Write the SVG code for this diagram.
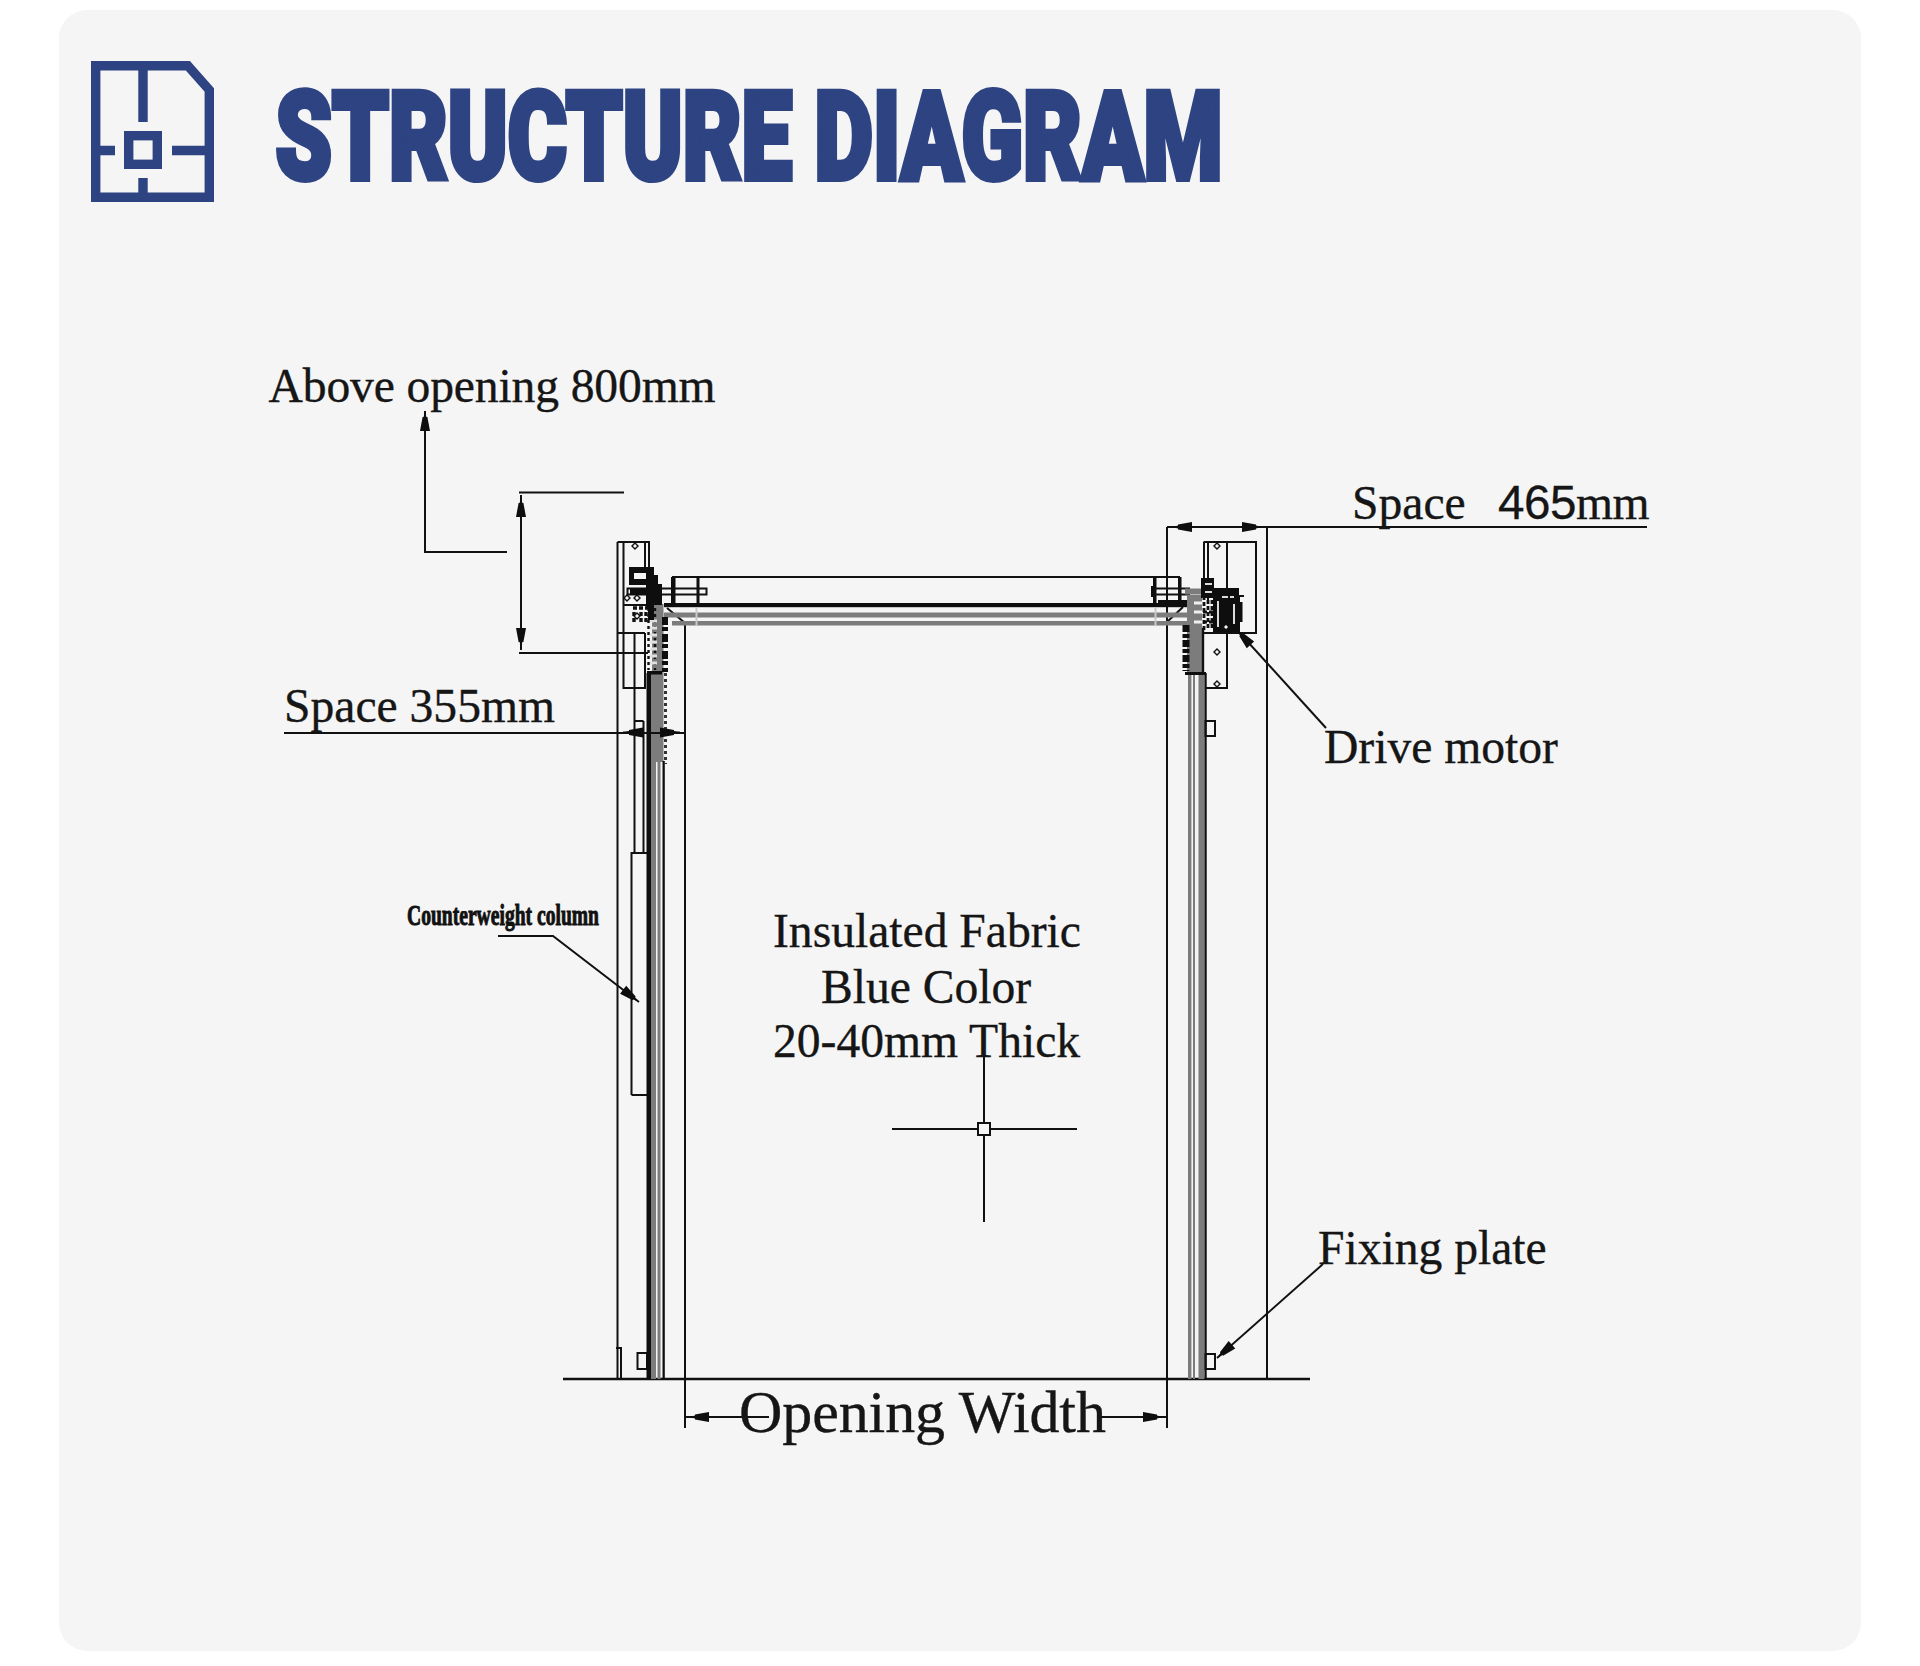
<svg xmlns="http://www.w3.org/2000/svg" width="1920" height="1666" viewBox="0 0 1920 1666">
<style>
.t{font-family:"Liberation Serif","Times New Roman",serif;font-size:47.6px;fill:#161616;stroke:#161616;stroke-width:.35}
.l{stroke:#111;stroke-width:2;fill:none}
.k{fill:#0e0e0e}
.g{fill:#7c7c7c}
.ic{fill:none;stroke:#2d4382;stroke-width:9.4}
.ld{stroke:#111;stroke-width:2;fill:none;marker-end:url(#ah)}
</style>
<defs>
<marker id="ah" markerUnits="userSpaceOnUse" markerWidth="24" markerHeight="12" refX="22" refY="6" orient="auto" overflow="visible">
<path d="M22 6 L16 4.6 L16 3.6 L2 1 L2 11 L16 8.4 L16 7.4 Z" fill="#0e0e0e"/>
</marker>
<path id="dm" d="M0 -3 L3 0 L0 3 L-3 0 Z" fill="#f5f5f5" stroke="#111" stroke-width="1.4"/>
</defs>
<rect width="1920" height="1666" fill="#fff"/>
<rect id="card" x="59" y="10" width="1802" height="1641" rx="28" fill="#f5f5f5"/>

<g id="icon">
<path class="ic" d="M95.7 65.7 H187.8 L209.3 90 V197.3 H95.7 Z"/>
<path class="ic" d="M143 66 V122 M100 150.5 H115 M172 150.5 H205 M143 178 V193"/>
<rect class="ic" x="128.7" y="135.7" width="28.6" height="28.6"/>
</g>
<text id="title" x="275.5" y="179" font-family="Roboto,'Liberation Sans',Arial,sans-serif" font-weight="900" font-size="123" fill="#2d4382" stroke="#2d4382" stroke-width="6" stroke-linejoin="miter" textLength="947" lengthAdjust="spacingAndGlyphs">STRUCTURE DIAGRAM</text>

<g id="door-frame">
<path class="l" d="M617.5 542 V1379 M617.5 542 H649 V570 M623.5 542 V688 H645 V633 M617.5 633 H645 M623.5 605 H660 M645 542 V570"/>
<path class="l" d="M621 1348 V1379 M616 1348 H622"/>
<path class="l" d="M634.5 633 V853 M643.5 721 H634.5 M643.5 721 V853"/>
<path class="l" d="M631.5 1095 V853 H647 M631.5 1095 H647"/>
<rect class="l" x="637.5" y="1353" width="9.5" height="16"/>
<path class="l" d="M685 623 V1428 M667 608 L685 623 M1167 527 V1428 M1167 622 L1183 607 M1267 527 V1379"/>
<path d="M563 1379 H1310" stroke="#111" stroke-width="2.6"/>
</g>

<g id="top-beam">
<path class="l" d="M672 577 H1180"/>
<rect class="k" x="671" y="577" width="4.5" height="27"/>
<rect class="k" x="696.5" y="577" width="3" height="27"/>
<rect class="k" x="1153" y="577" width="3.5" height="27"/>
<rect class="k" x="1178" y="577" width="3.5" height="27"/>
<path class="l" d="M627.5 588.5 H706.5 V594.5 H627.5 Z M1151 588.5 H1190 M1151 594.5 H1190"/>
<rect class="k" x="1151" y="586" width="3" height="11"/>
<rect class="k" x="664" y="603" width="523" height="4.2"/>
<rect class="k" x="1158" y="600" width="30" height="4"/>
<rect class="g" x="664" y="612.5" width="523" height="5"/>
<rect class="g" x="672" y="621" width="515" height="4.5"/>
<rect x="695.5" y="608" width="2" height="18" fill="#c9c9c9"/>
<rect x="1154.5" y="608" width="2" height="18" fill="#c9c9c9"/>
</g>

<g id="left-column">
<rect class="g" x="652" y="604" width="11.5" height="158"/>
<rect class="g" x="650" y="673" width="6" height="706"/>
<rect class="k" x="646.5" y="673" width="4.5" height="706"/>
<rect class="g" x="657.5" y="761" width="3" height="618"/>
<rect class="k" x="662.5" y="761" width="2.3" height="618"/>
<path d="M665.5 673 V764" stroke="#333" stroke-width="3" stroke-dasharray="3 3"/>
<rect class="k" x="647" y="671" width="15" height="3.5"/>
<path d="M665 617 V672" stroke="#0e0e0e" stroke-width="6" stroke-dasharray="8 2 4 3"/>
<path d="M648.5 608 V670 M655 608 V670" stroke="#111" stroke-width="2.4" stroke-dasharray="3 3"/>
<path d="M650 621 H657 M650 628 H657 M650 635 H657 M650 642 H657 M650 649 H657 M650 656 H657 M650 663 H657" stroke="#e0e0e0" stroke-width="3"/>
</g>

<g id="left-mechanism">
<rect class="k" x="629" y="567" width="23" height="6"/>
<rect class="k" x="629" y="579" width="23" height="6"/>
<rect class="k" x="629" y="567" width="5" height="18"/>
<rect class="k" x="646" y="567" width="8" height="40"/>
<rect class="k" x="654" y="575" width="4" height="30"/>
<rect class="k" x="630" y="588" width="18" height="7"/>
<rect class="k" x="658" y="584" width="4" height="21"/>
<rect class="k" x="648" y="604" width="6" height="16"/>
<path d="M633 608 H648 M634 612 V624 M641 612 V624 M646 612 V624" stroke="#111" stroke-width="3.4" stroke-dasharray="4 2" fill="none"/>
<use href="#dm" x="635" y="546"/>
<use href="#dm" x="627" y="598"/>
<use href="#dm" x="637" y="598"/>
<use href="#dm" x="637" y="616"/>
</g>

<g id="right-column">
<rect class="g" x="1187" y="595" width="15" height="78"/>
<rect class="g" x="1185" y="588.5" width="18" height="6"/>
<rect class="g" x="1188" y="673" width="3.4" height="706"/>
<rect class="g" x="1193" y="673" width="2" height="706"/>
<rect class="g" x="1198.5" y="673" width="6" height="706"/>
<rect class="k" x="1204.5" y="673" width="2.2" height="706"/>
<rect class="k" x="1185" y="672" width="21" height="3"/>
<path d="M1186 625 V671" stroke="#0e0e0e" stroke-width="7" stroke-dasharray="7 2 4 2"/>
<path d="M1203 628 V672" stroke="#111" stroke-width="2.4"/>
<path d="M1194 603 H1203 M1194 612 H1203 M1194 622 H1203" stroke="#f0f0f0" stroke-width="3"/>
</g>

<g id="right-mechanism">
<path class="l" d="M1203.5 542 H1256 V633 H1203 M1208 542 V600 M1227 542 V688 H1206 M1204 542 V590"/>
<rect class="l" x="1205.5" y="721" width="9.5" height="15"/>
<rect class="l" x="1205.5" y="1354" width="9.5" height="15"/>
<rect class="k" x="1201" y="578" width="13" height="20"/>
<rect class="k" x="1214" y="588" width="25" height="8"/>
<rect class="k" x="1213" y="596" width="27" height="36"/>
<rect class="k" x="1239" y="602" width="3.5" height="20"/>
<path d="M1238 596 H1244" stroke="#111" stroke-width="2"/>
<path d="M1204 596 V630 M1208 600 V630 M1212 600 V630 M1203 612 H1214 M1203 622 H1214" stroke="#111" stroke-width="2.8" stroke-dasharray="4 2"/>
<path d="M1218 601 V627 M1234 604 V624 M1222 597 H1228 M1230 597 H1234 M1205 584 H1212 M1205 592 H1212" stroke="#dcdcdc" stroke-width="2"/>
<use href="#dm" x="1217" y="546"/>
<use href="#dm" x="1217" y="652"/>
<use href="#dm" x="1217" y="684"/>
<use href="#dm" x="1226" y="627"/>
</g>

<g id="connectors">
<path class="ld" d="M507 552 H425 V411"/>
<path class="l" d="M519 492.5 H624 M519 653 H648 M521 495 V650"/>
<path class="ld" d="M521 520 V497"/>
<path class="ld" d="M521 625 V648"/>
<path class="l" d="M284 733 H685"/>
<path class="ld" d="M640 732.5 H623"/>
<path class="ld" d="M660 732.5 H680"/>
<path class="l" d="M1167 527 H1647"/>
<path class="ld" d="M1192 527 H1172"/>
<path class="ld" d="M1243 527 H1262"/>
<path class="ld" d="M1326 728 L1237 630"/>
<path class="ld" d="M1323 1264 L1217 1358"/>
<path class="ld" d="M498 936 H553 L639 1002"/>
<path class="l" d="M685 1417 H769 M1100 1417 H1167"/>
<path class="ld" d="M710 1417 H689"/>
<path class="ld" d="M1143 1417 H1163"/>
<path class="l" d="M984 1055 V1123 M984 1135 V1222 M892 1129 H978 M990 1129 H1077"/>
<rect class="l" x="978" y="1123" width="12" height="12"/>
</g>

<g id="labels">
<text class="t" x="268.5" y="401.5" style="letter-spacing:-.13px">Above opening 800mm</text>
<text class="t" x="284" y="722">Space 355mm</text>
<text class="t" x="1352" y="518.5">Space <tspan x="1498" font-family="'Liberation Sans',Arial,sans-serif" style="letter-spacing:-.5px">465</tspan><tspan style="letter-spacing:-.5px">mm</tspan></text>
<text class="t" x="1324" y="762.5">Drive motor</text>
<text class="t" x="1318" y="1264">Fixing plate</text>
<text class="t" x="773" y="946.5">Insulated Fabric</text>
<text class="t" x="821" y="1002.5">Blue Color</text>
<text class="t" x="773" y="1056.5">20-40mm Thick</text>
<text class="t" x="739" y="1431.5" style="font-size:60px;letter-spacing:-.1px">Opening Width</text>
<text x="407" y="925" font-family="'Liberation Serif','Times New Roman',serif" font-size="29" font-weight="700" fill="#111" stroke="#111" stroke-width="1" textLength="192" lengthAdjust="spacingAndGlyphs">Counterweight column</text>
</g>
</svg>
